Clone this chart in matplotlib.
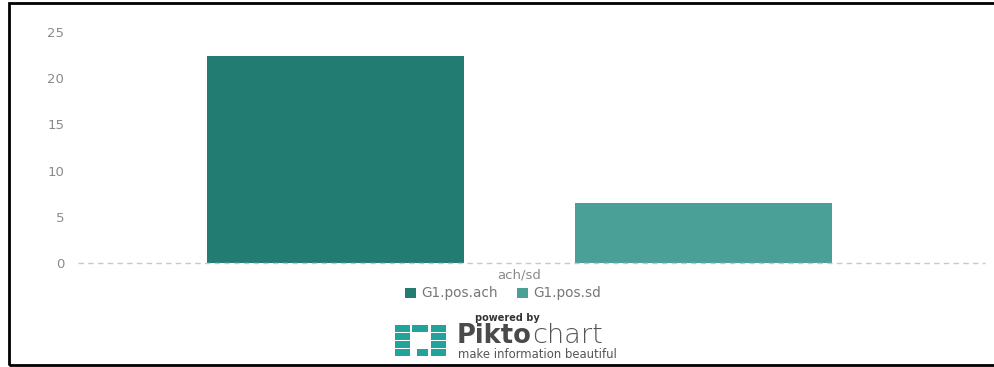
import matplotlib
matplotlib.use('Agg')
import matplotlib.pyplot as plt
from matplotlib.patches import Rectangle

# Data
category = 'ach/sd'
series = ['G1.pos.ach', 'G1.pos.sd']
values = [22.4, 6.5]
colors = ['#227c72', '#4aa096']
yticks = [0, 5, 10, 15, 20, 25]

W, H = 995, 367
fig = plt.figure(figsize=(W / 100, H / 100), dpi=100)

# plot area in pixels: left 78, right 995, bottom (y=0) at 263, top (y=25) at 32
ax = fig.add_axes([78 / W, 1 - 263 / H, (995 - 78) / W, (263 - 32) / H])
bar_w = 0.698
ax.bar(range(len(values)), values, width=bar_w, color=colors, zorder=2)
ax.set_xlim(-0.6997, 1.792)
ax.set_ylim(0, 25)
ax.axhline(0, xmax=(985 - 78) / (995 - 78), color='#c8c8c8', lw=1,
           ls=(0, (4, 3)), zorder=3, clip_on=False)

ax.set_yticks(yticks)
ax.set_yticklabels([str(t) for t in yticks], color='#8a8a8a', fontsize=9.5)
ax.tick_params(axis='y', length=0, pad=10)
ax.set_xticks([])
for s in ax.spines.values():
    s.set_visible(False)

# category label and legend
fig.text(519 / W, 1 - 275 / H, category, ha='center', va='center', color='#8a8a8a', fontsize=9.5)
leg_x = [405, 517]
for x0, name, c in zip(leg_x, series, colors):
    fig.patches.append(Rectangle((x0 / W, 1 - 298 / H), 11 / W, 10 / H,
                                 transform=fig.transFigure, facecolor=c, lw=0))
    fig.text((x0 + 16) / W, 1 - 293 / H, name, ha='left', va='center',
             color='#777777', fontsize=9.8)

# powered by Piktochart
fig.text(507 / W, 1 - 318 / H, 'powered by', ha='center', va='center',
         color='#333333', fontsize=7, fontweight='bold')
t1 = fig.text(457 / W, 1 - 343 / H, 'Pikto', ha='left', va='baseline', color='#4a4a4a',
              fontsize=18.5, fontweight='bold')
fig.canvas.draw()
bb = t1.get_window_extent()
fig.text(bb.x1 / W, 1 - 343 / H, 'chart', ha='left', va='baseline', color='#555555',
         fontsize=19.5, fontweight='light')
fig.text(458 / W, 1 - 355 / H, 'make information beautiful', ha='left', va='center',
         color='#555555', fontsize=8.4)

# logo grid
logo = '#1fa39a'
cols = [(395, 15), (412, 16), (431, 15)]
rows = [(325, 6.5), (333, 6.5), (341, 6.5), (349, 6.5)]
for ri, (ry, rh) in enumerate(rows):
    for ci, (cx, cw) in enumerate(cols):
        if ci == 1 and ri in (1, 2):
            continue
        if ci == 1 and ri == 3:
            cx, cw = cx + 5, cw - 5
        fig.patches.append(Rectangle((cx / W, 1 - (ry + rh) / H), cw / W, rh / H,
                                     transform=fig.transFigure, facecolor=logo, lw=0))

# frame
fig.patches.append(Rectangle((9 / W, 1 - 365 / H), 1.2, (365 - 3) / H,
                             transform=fig.transFigure, fill=False,
                             edgecolor='black', lw=2))

fig.savefig('out.png', dpi=100)
